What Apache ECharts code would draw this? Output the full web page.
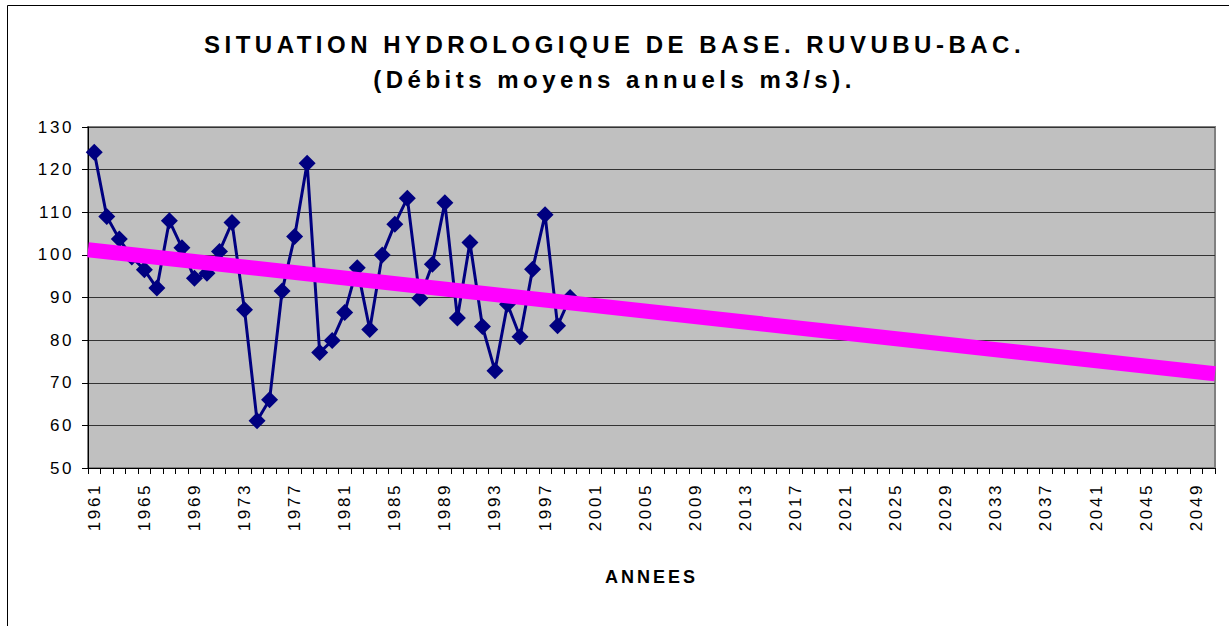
<!DOCTYPE html>
<html>
<head>
<meta charset="utf-8">
<script src="https://cdn.jsdelivr.net/npm/echarts@6/dist/echarts.min.js"></script>
<style>
    body { margin: 0; background: #fff; }
    #chart { width: 1229px; height: 626px; }
    /* the source picture spreads its letters, svg text takes css letter-spacing */
    #chart text[style*="24px"] { letter-spacing: 4.5px; }
    #chart text[style*="18px"] { letter-spacing: 3px; }
    #chart text[style*="17px"] { letter-spacing: 2.6px; }
</style>
</head>
<body>
<div id="chart"></div>
<script>
var firstYear = 1961;
var lastYear = 2050;
var years = [];
for (var y = firstYear; y <= lastYear; y++) {
    years.push(String(y));
}
// débits moyens annuels 1961-1999 (m3/s)
var flows = [124.1, 109.0, 103.7, 99.5, 96.5, 92.2, 108.0, 101.7, 94.5, 95.7,
    100.8, 107.6, 87.1, 61.1, 66.0, 91.5, 104.3, 121.5, 77.1, 79.9,
    86.5, 97.0, 82.5, 100.0, 107.2, 113.3, 89.8, 97.8, 112.2, 85.2,
    102.9, 83.2, 72.8, 88.4, 80.8, 96.6, 109.4, 83.4, 90.0];
// tendance linéaire, lue aux deux bords du graphique
var trendX = [1960.5, 2050.5];
var trendY = [101.2, 72.1];
var yTicks = [50, 130, 10];

var chart = echarts.init(document.getElementById('chart'), null, {renderer: 'svg'});

var option = {
    animation: false,
    backgroundColor: '#fff',
    title: {
        text: 'SITUATION HYDROLOGIQUE DE BASE. RUVUBU-BAC.\n(Débits moyens annuels m3/s).',
        left: 'center',
        top: 27,
        padding: 0,
        textStyle: {
            fontFamily: 'Liberation Sans',
            fontSize: 24,
            fontWeight: 'bold',
            lineHeight: 35,
            color: '#000'
        }
    },
    graphic: [{
        type: 'rect',
        shape: {x: 7.5, y: 5.5, width: 1300, height: 700},
        style: {fill: 'none', stroke: '#000', lineWidth: 1},
        silent: true,
        z: -10
    }],
    grid: {
        left: 88,
        right: 14,
        top: 127,
        bottom: 158,
        show: true,
        backgroundColor: '#C0C0C0',
        borderColor: '#808080',
        borderWidth: 2
    },
    xAxis: [
        {
            type: 'category',
            data: years,
            boundaryGap: true,
            name: 'ANNEES',
            nameLocation: 'middle',
            nameGap: 100,
            nameTextStyle: {
                fontFamily: 'Liberation Sans',
                fontSize: 18,
                fontWeight: 'bold',
                color: '#000'
            },
            axisLine: {show: true, lineStyle: {color: '#000', width: 1}},
            axisTick: {show: true, interval: 0, length: 6, lineStyle: {color: '#000'}},
            axisLabel: {
                interval: 3,
                rotate: 90,
                margin: 15,
                fontFamily: 'Liberation Sans',
                fontSize: 17,
                color: '#000'
            },
            splitLine: {show: false}
        },
        {
            type: 'value',
            min: trendX[0],
            max: trendX[1],
            show: false
        }
    ],
    yAxis: {
        type: 'value',
        min: yTicks[0],
        max: yTicks[1],
        interval: yTicks[2],
        axisLine: {show: true, lineStyle: {color: '#000', width: 1}},
        axisTick: {show: true, length: 6, lineStyle: {color: '#000'}},
        axisLabel: {
            margin: 14,
            fontFamily: 'Liberation Sans',
            fontSize: 17,
            color: '#000'
        },
        splitLine: {show: true, lineStyle: {color: '#333', width: 1}}
    },
    series: [
        {
            name: 'Débits',
            type: 'line',
            data: flows,
            xAxisIndex: 0,
            symbol: 'diamond',
            symbolSize: 17,
            showAllSymbol: true,
            lineStyle: {color: '#000080', width: 3},
            itemStyle: {color: '#000080'},
            z: 2
        },
        {
            name: 'Tendance',
            type: 'line',
            xAxisIndex: 1,
            data: [[trendX[0], trendY[0]], [trendX[1], trendY[1]]],
            showSymbol: false,
            lineStyle: {color: '#FF00FF', width: 15, cap: 'butt'},
            z: 3
        }
    ]
};

chart.setOption(option);
</script>
</body>
</html>
